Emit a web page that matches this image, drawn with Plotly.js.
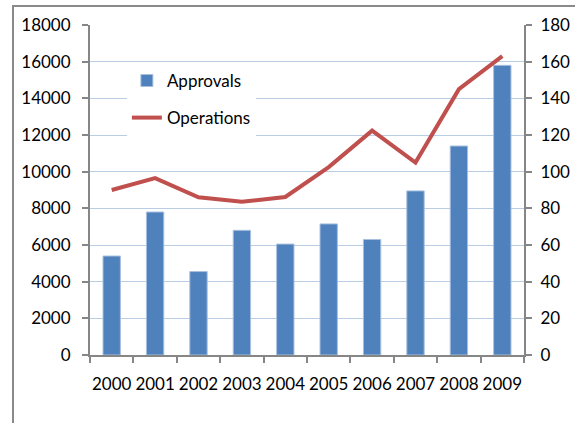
<!DOCTYPE html>
<html>
<head>
<meta charset="utf-8">
<script src="https://cdn.plot.ly/plotly-3.0.1.min.js"></script>
<style>
  html, body { margin: 0; padding: 0; background: #fff; }
  #chart { width: 575px; height: 423px; }
</style>
</head>
<body>
<div id="chart"></div>
<script>
// Yearly data
const years = ['2000', '2001', '2002', '2003', '2004', '2005', '2006', '2007', '2008', '2009'];
const approvals = [5400, 7800, 4550, 6800, 6050, 7150, 6300, 8950, 11400, 15800];
const operations = [90, 96.5, 86, 83.6, 86.2, 102.5, 122.4, 105, 145, 163];

const axisColor = '#868686';
const gridColor = '#b9cde5';
const fontFamily = 'Lato, "Open Sans", sans-serif';
const tickFont = { family: fontFamily, size: 17, color: '#000' };

const traces = [
  {
    type: 'bar',
    name: 'Approvals',
    x: years,
    y: approvals,
    legendgroup: 'a',
    marker: { color: '#4f81bd', line: { color: '#a7c0de', width: 1 } },
    yaxis: 'y'
  },
  {
    type: 'scatter',
    mode: 'lines',
    name: 'Operations',
    x: years,
    y: operations,
    legendgroup: 'b',
    line: { color: '#c0504d', width: 4 },
    yaxis: 'y2'
  }
];

const layout = {
  width: 575,
  height: 423,
  margin: { l: 90, r: 51, t: 25, b: 68 },
  paper_bgcolor: '#fff',
  plot_bgcolor: '#fff',
  font: { family: fontFamily, size: 17, color: '#000' },
  bargap: 0.6,
  showlegend: true,
  legend: {
    x: 0.085, y: 0.885, xanchor: 'left', yanchor: 'top',
    bgcolor: '#fff',
    traceorder: 'grouped',
    tracegroupgap: 12,
    font: { family: fontFamily, size: 17, color: '#000' }
  },
  xaxis: {
    type: 'category',
    tickangle: 0,
    tickfont: tickFont,
    showline: true, linecolor: axisColor, linewidth: 2,
    ticks: 'outside', tickson: 'boundaries', ticklen: 6, tickcolor: axisColor, tickwidth: 2,
    ticklabelstandoff: 13,
    showgrid: false, zeroline: false
  },
  yaxis: {
    range: [0, 18000], dtick: 2000, tickformat: 'd',
    tickfont: tickFont,
    showline: true, linecolor: axisColor, linewidth: 2,
    ticks: 'outside', ticklen: 6, tickcolor: axisColor, tickwidth: 2,
    ticklabelstandoff: 8,
    showgrid: true, gridcolor: gridColor, gridwidth: 1,
    zeroline: false
  },
  yaxis2: {
    overlaying: 'y', side: 'right',
    range: [0, 180], dtick: 20,
    tickfont: tickFont,
    showline: true, linecolor: axisColor, linewidth: 2,
    ticks: 'outside', ticklen: 6, tickcolor: axisColor, tickwidth: 2,
    ticklabelstandoff: 5,
    showgrid: false, zeroline: false
  },
  shapes: [
    {
      type: 'rect', xref: 'paper', yref: 'paper',
      x0: -0.1774, x1: 1.3, y0: -0.4, y1: 1.0576,
      line: { color: '#8a8a8a', width: 2 },
      fillcolor: 'rgba(0,0,0,0)',
      layer: 'below'
    }
  ]
};

Plotly.newPlot('chart', traces, layout, { staticPlot: true });
</script>
</body>
</html>
